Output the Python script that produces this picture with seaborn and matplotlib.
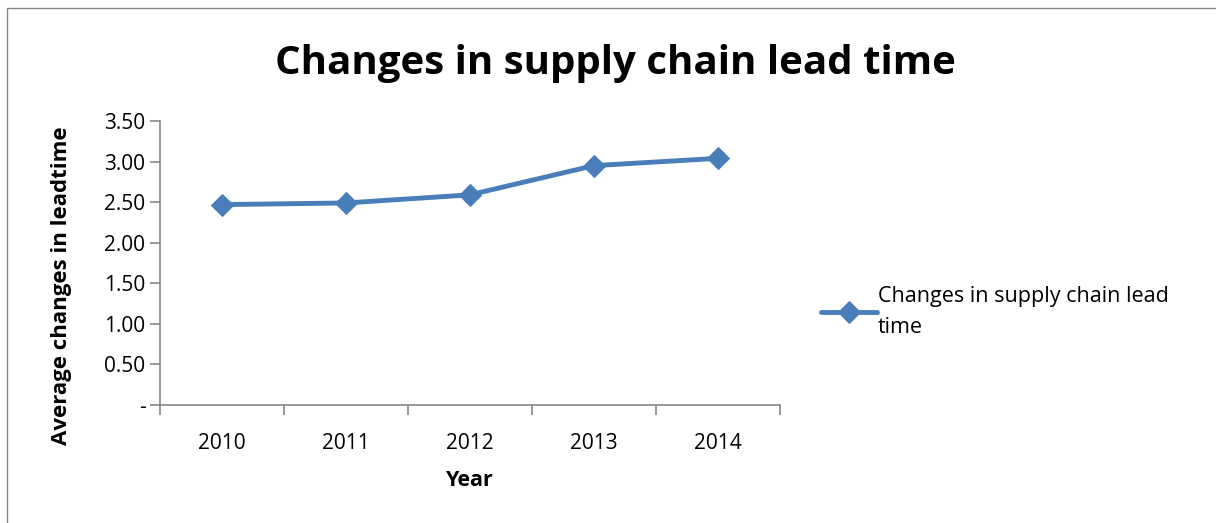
import matplotlib
matplotlib.use('Agg')
import matplotlib.pyplot as plt
import seaborn as sns
import pandas as pd
from matplotlib.patches import Rectangle
from matplotlib.ticker import FixedLocator, FuncFormatter

years = ['2010', '2011', '2012', '2013', '2014']
lead_time = [2.47, 2.49, 2.59, 2.95, 3.04]
series_name = 'Changes in supply chain lead time'

sns.set_style('white')
plt.rcParams['font.family'] = ['Open Sans', 'DejaVu Sans']
plt.rcParams['text.color'] = 'black'

df = pd.DataFrame({'pos': range(len(years)), 'value': lead_time})

fig = plt.figure(figsize=(12.16, 5.23), dpi=100)
ax = fig.add_axes([0.1316, 0.2256, 0.5095, 0.543])

sns.lineplot(data=df, x='pos', y='value', ax=ax, color='#4A7EBB', linewidth=3.5,
             marker='D', markersize=11, markeredgecolor='#4A7EBB',
             label=series_name)

ax.set_xlim(-0.5, len(years) - 0.5)
ax.set_ylim(0, 3.5)
ax.set_yticks([0, 0.5, 1.0, 1.5, 2.0, 2.5, 3.0, 3.5])
ax.yaxis.set_major_formatter(FuncFormatter(lambda v, p: '-' if v == 0 else f'{v:.2f}'))
ax.set_xticks(range(len(years)))
ax.set_xticklabels(years)
ax.xaxis.set_minor_locator(FixedLocator([i - 0.5 for i in range(len(years) + 1)]))
ax.tick_params(axis='x', which='major', bottom=True, length=0, labelsize=15, pad=20, labelcolor='black')
ax.tick_params(axis='x', which='minor', bottom=True, length=7, width=1.2, color='#868686', direction='out')
ax.tick_params(axis='y', which='major', left=True, length=7, width=1.2, color='#868686',
               labelsize=15, labelcolor='black', direction='out')

for side in ['top', 'right']:
    ax.spines[side].set_visible(False)
for side in ['left', 'bottom']:
    ax.spines[side].set_color('#868686')
    ax.spines[side].set_linewidth(1.2)

ax.set_xlabel('Year', fontsize=15.5, fontweight='bold', labelpad=12, color='black')
ax.set_ylabel('Average changes in leadtime', fontsize=16, fontweight='bold', color='black')
ax.yaxis.set_label_coords(-0.142, 0.42)

fig.suptitle(series_name, fontsize=29, fontweight='bold', x=0.506, y=0.915, color='black')

ax.get_legend().remove()
handles, _ = ax.get_legend_handles_labels()
fig.legend(handles, ['Changes in supply chain lead\ntime'], loc='upper left',
           bbox_to_anchor=(0.668, 0.47), frameon=False, fontsize=15.5,
           handlelength=2.6, handletextpad=0.05, borderaxespad=0, labelspacing=0)
for t in fig.legends[0].get_texts():
    t.set_linespacing(1.65)
    t.set_color('black')

fig.patches.append(Rectangle((0.006, -0.01), 1.1, 0.995, transform=fig.transFigure,
                             fill=False, edgecolor='#868686', linewidth=1.0))

fig.savefig('out.png', dpi=100)
